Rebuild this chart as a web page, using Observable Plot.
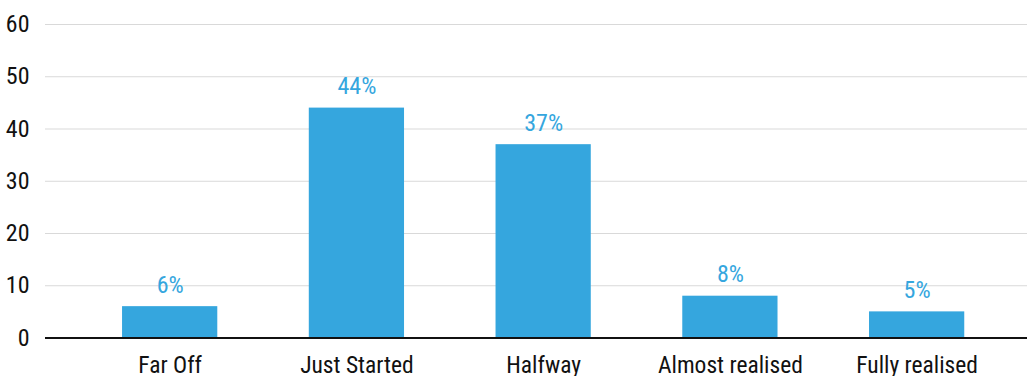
<!DOCTYPE html>
<html>
<head>
<meta charset="utf-8">
<script src="https://cdn.jsdelivr.net/npm/d3@7"></script>
<script src="https://cdn.jsdelivr.net/npm/@observablehq/plot@0.6"></script>
<style>
  html, body { margin: 0; padding: 0; background: #fff; }
  #chart svg { display: block; }
</style>
</head>
<body>
<div id="chart"></div>
<script>
const categories = ["Far Off", "Just Started", "Halfway", "Almost realised", "Fully realised"];
const values = [6, 44, 37, 8, 5];
const valueLabels = ["6%", "44%", "37%", "8%", "5%"];
const yTicks = [0, 10, 20, 30, 40, 50, 60];

const data = categories.map((c, i) => ({category: c, value: values[i], label: valueLabels[i]}));
const FONT = "'Roboto Condensed', 'Liberation Sans Narrow', 'DejaVu Sans Condensed', 'Arial Narrow', Roboto, sans-serif";
const BLUE = "#35a6de";

const chart = Plot.plot({
  width: 1027,
  height: 376,
  marginLeft: 45,
  marginRight: 0,
  marginTop: 24,
  marginBottom: 38.5,
  style: {fontFamily: FONT, background: "#fff"},
  x: {domain: categories, paddingInner: 0.49, paddingOuter: 0.336, insetLeft: 14.3, round: false, label: null},
  y: {domain: [0, 60], label: null},
  marks: [
    Plot.ruleY(yTicks.filter(d => d > 0), {stroke: "#d9d9d9", strokeWidth: 1}),
    Plot.barY(data, {x: "category", y: "value", fill: BLUE}),
    Plot.ruleY([0], {stroke: "#111", strokeWidth: 2}),
    Plot.text(data, {x: "category", y: "value", text: "label", fill: BLUE, fontSize: 24, lineAnchor: "bottom", dy: -14}),
    Plot.axisY({ticks: yTicks, tickSize: 0, tickPadding: 16, fontSize: 24, color: "#111", label: null}),
    Plot.axisX({tickSize: 0, tickPadding: 18, fontSize: 23.5, color: "#111", label: null})
  ]
});
document.getElementById("chart").appendChild(chart);
</script>
</body>
</html>
